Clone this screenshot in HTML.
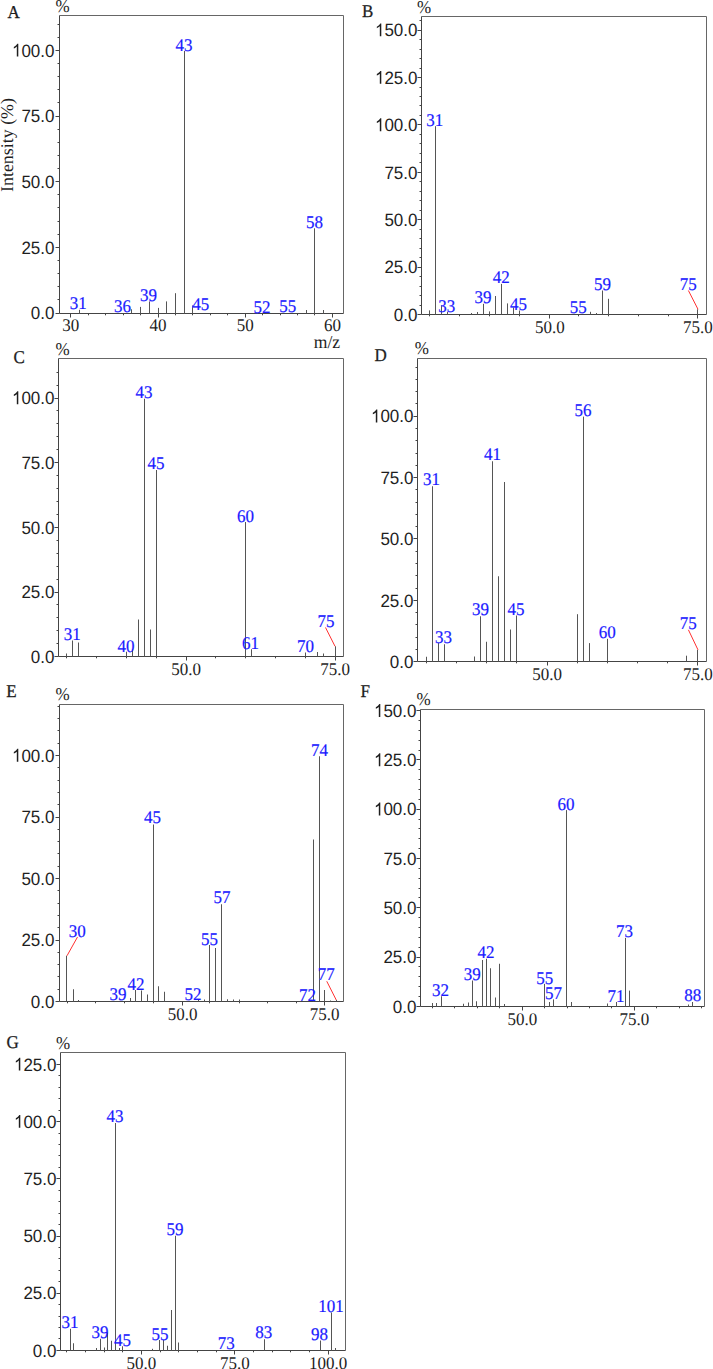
<!DOCTYPE html>
<html><head><meta charset="utf-8"><title>Mass spectra</title>
<style>
html,body{margin:0;padding:0;background:#fff;}
body{width:713px;height:1369px;overflow:hidden;}
svg{display:block;text-rendering:geometricPrecision;}
.yl{font-family:"Liberation Sans", sans-serif;font-size:17px;fill:#1e1e1e;text-anchor:end;}
.xl{font-family:"Liberation Serif", serif;font-size:17px;fill:#1e1e1e;text-anchor:middle;}
.pl{font-family:"Liberation Serif", serif;font-size:17px;fill:#1a1aff;stroke:#1a1aff;stroke-width:0.2px;text-anchor:middle;}
.lt{font-family:"Liberation Serif", serif;font-size:17px;fill:#1e1e1e;stroke:#1e1e1e;stroke-width:0.25px;}
.pc{font-family:"Liberation Serif", serif;font-size:17px;fill:#1e1e1e;}
.yt{font-family:"Liberation Serif", serif;font-size:17.9px;fill:#1e1e1e;text-anchor:middle;}
.mz{font-family:"Liberation Serif", serif;font-size:17.6px;fill:#1e1e1e;}
</style></head>
<body>
<svg width="713" height="1369" viewBox="0 0 713 1369">
<rect width="713" height="1369" fill="#fff"/>
<path d="M59.5 15.5H343.5V313.5" stroke="#666" stroke-width="1" fill="none"/>
<path d="M59.5 15.5V313.5H343.5" stroke="#444" stroke-width="1" fill="none"/>
<line x1="55.5" y1="313.5" x2="59.5" y2="313.5" stroke="#444" stroke-width="1"/>
<line x1="57.5" y1="299.5" x2="59.5" y2="299.5" stroke="#444" stroke-width="1"/>
<line x1="57.5" y1="286.5" x2="59.5" y2="286.5" stroke="#444" stroke-width="1"/>
<line x1="57.5" y1="273.5" x2="59.5" y2="273.5" stroke="#444" stroke-width="1"/>
<line x1="57.5" y1="260.5" x2="59.5" y2="260.5" stroke="#444" stroke-width="1"/>
<line x1="55.5" y1="247.5" x2="59.5" y2="247.5" stroke="#444" stroke-width="1"/>
<line x1="57.5" y1="234.5" x2="59.5" y2="234.5" stroke="#444" stroke-width="1"/>
<line x1="57.5" y1="221.5" x2="59.5" y2="221.5" stroke="#444" stroke-width="1"/>
<line x1="57.5" y1="207.5" x2="59.5" y2="207.5" stroke="#444" stroke-width="1"/>
<line x1="57.5" y1="194.5" x2="59.5" y2="194.5" stroke="#444" stroke-width="1"/>
<line x1="55.5" y1="181.5" x2="59.5" y2="181.5" stroke="#444" stroke-width="1"/>
<line x1="57.5" y1="168.5" x2="59.5" y2="168.5" stroke="#444" stroke-width="1"/>
<line x1="57.5" y1="155.5" x2="59.5" y2="155.5" stroke="#444" stroke-width="1"/>
<line x1="57.5" y1="142.5" x2="59.5" y2="142.5" stroke="#444" stroke-width="1"/>
<line x1="57.5" y1="129.5" x2="59.5" y2="129.5" stroke="#444" stroke-width="1"/>
<line x1="55.5" y1="116.5" x2="59.5" y2="116.5" stroke="#444" stroke-width="1"/>
<line x1="57.5" y1="102.5" x2="59.5" y2="102.5" stroke="#444" stroke-width="1"/>
<line x1="57.5" y1="89.5" x2="59.5" y2="89.5" stroke="#444" stroke-width="1"/>
<line x1="57.5" y1="76.5" x2="59.5" y2="76.5" stroke="#444" stroke-width="1"/>
<line x1="57.5" y1="63.5" x2="59.5" y2="63.5" stroke="#444" stroke-width="1"/>
<line x1="55.5" y1="50.5" x2="59.5" y2="50.5" stroke="#444" stroke-width="1"/>
<line x1="57.5" y1="37.5" x2="59.5" y2="37.5" stroke="#444" stroke-width="1"/>
<line x1="57.5" y1="24.5" x2="59.5" y2="24.5" stroke="#444" stroke-width="1"/>
<text transform="translate(54.5,319.2) scale(1,1.05)" class="yl">0.0</text>
<text transform="translate(54.5,253.55) scale(1,1.05)" class="yl">25.0</text>
<text transform="translate(54.5,187.9) scale(1,1.05)" class="yl">50.0</text>
<text transform="translate(54.5,122.25) scale(1,1.05)" class="yl">75.0</text>
<text transform="translate(54.5,56.6) scale(1,1.05)" class="yl">00.0</text>
<path transform="translate(11.97,56.6) scale(0.008301,-0.008716)" d="M763,0L583,0L583,1147C540,1106 483,1064 413,1023C343,982 280,951 223,930L223,1104C322,1150 401,1203 480,1272C559,1341 613,1408 643,1472L763,1472Z" fill="#1e1e1e"/>
<line x1="70.5" y1="313.5" x2="70.5" y2="317.5" stroke="#444" stroke-width="1"/>
<line x1="88.5" y1="313.5" x2="88.5" y2="315.3" stroke="#444" stroke-width="1"/>
<line x1="105.5" y1="313.5" x2="105.5" y2="315.3" stroke="#444" stroke-width="1"/>
<line x1="123.5" y1="313.5" x2="123.5" y2="315.3" stroke="#444" stroke-width="1"/>
<line x1="140.5" y1="313.5" x2="140.5" y2="315.3" stroke="#444" stroke-width="1"/>
<line x1="158.5" y1="313.5" x2="158.5" y2="317.5" stroke="#444" stroke-width="1"/>
<line x1="175.5" y1="313.5" x2="175.5" y2="315.3" stroke="#444" stroke-width="1"/>
<line x1="192.5" y1="313.5" x2="192.5" y2="315.3" stroke="#444" stroke-width="1"/>
<line x1="210.5" y1="313.5" x2="210.5" y2="315.3" stroke="#444" stroke-width="1"/>
<line x1="227.5" y1="313.5" x2="227.5" y2="315.3" stroke="#444" stroke-width="1"/>
<line x1="245.5" y1="313.5" x2="245.5" y2="317.5" stroke="#444" stroke-width="1"/>
<line x1="262.5" y1="313.5" x2="262.5" y2="315.3" stroke="#444" stroke-width="1"/>
<line x1="280.5" y1="313.5" x2="280.5" y2="315.3" stroke="#444" stroke-width="1"/>
<line x1="297.5" y1="313.5" x2="297.5" y2="315.3" stroke="#444" stroke-width="1"/>
<line x1="314.5" y1="313.5" x2="314.5" y2="315.3" stroke="#444" stroke-width="1"/>
<line x1="332.5" y1="313.5" x2="332.5" y2="317.5" stroke="#444" stroke-width="1"/>
<text transform="translate(70.8,330.8) scale(1,1.05)" class="xl">30</text>
<text transform="translate(158,330.8) scale(1,1.05)" class="xl">40</text>
<text transform="translate(245.2,330.8) scale(1,1.05)" class="xl">50</text>
<text transform="translate(332.4,330.8) scale(1,1.05)" class="xl">60</text>
<line x1="79.5" y1="313.5" x2="79.5" y2="309.8" stroke="#555" stroke-width="1"/>
<line x1="131.5" y1="313.5" x2="131.5" y2="309.3" stroke="#555" stroke-width="1"/>
<line x1="140.5" y1="313.5" x2="140.5" y2="306.9" stroke="#555" stroke-width="1"/>
<line x1="149.5" y1="313.5" x2="149.5" y2="301.4" stroke="#555" stroke-width="1"/>
<line x1="158.5" y1="313.5" x2="158.5" y2="307.9" stroke="#555" stroke-width="1"/>
<line x1="166.5" y1="313.5" x2="166.5" y2="301.4" stroke="#555" stroke-width="1"/>
<line x1="175.5" y1="313.5" x2="175.5" y2="293.2" stroke="#555" stroke-width="1"/>
<line x1="184.5" y1="313.5" x2="184.5" y2="51" stroke="#555" stroke-width="1"/>
<line x1="192.5" y1="313.5" x2="192.5" y2="305.4" stroke="#555" stroke-width="1"/>
<line x1="306.5" y1="313.5" x2="306.5" y2="310" stroke="#555" stroke-width="1"/>
<line x1="314.5" y1="313.5" x2="314.5" y2="228.3" stroke="#555" stroke-width="1"/>
<line x1="323.5" y1="313.5" x2="323.5" y2="310" stroke="#555" stroke-width="1"/>
<text transform="translate(78.3,309.1) scale(1,1.05)" class="pl">31</text>
<text transform="translate(122.4,312.2) scale(1,1.05)" class="pl">36</text>
<text transform="translate(148.6,300.8) scale(1,1.05)" class="pl">39</text>
<text transform="translate(183.9,51.1) scale(1,1.05)" class="pl">43</text>
<text transform="translate(200.8,310.4) scale(1,1.05)" class="pl">45</text>
<text transform="translate(262.1,313.2) scale(1,1.05)" class="pl">52</text>
<text transform="translate(287.8,312.4) scale(1,1.05)" class="pl">55</text>
<text transform="translate(314.6,227.9) scale(1,1.05)" class="pl">58</text>
<text transform="translate(7.5,18.2) scale(1,1.06)" class="lt">A</text>
<text transform="translate(55.5,11.8) scale(1,1.06)" class="pc">%</text>
<path d="M421.5 16.5H706.5V314.5" stroke="#666" stroke-width="1" fill="none"/>
<path d="M421.5 16.5V314.5H706.5" stroke="#444" stroke-width="1" fill="none"/>
<line x1="417.5" y1="314.5" x2="421.5" y2="314.5" stroke="#444" stroke-width="1"/>
<line x1="419.5" y1="305.5" x2="421.5" y2="305.5" stroke="#444" stroke-width="1"/>
<line x1="419.5" y1="295.5" x2="421.5" y2="295.5" stroke="#444" stroke-width="1"/>
<line x1="419.5" y1="286.5" x2="421.5" y2="286.5" stroke="#444" stroke-width="1"/>
<line x1="419.5" y1="276.5" x2="421.5" y2="276.5" stroke="#444" stroke-width="1"/>
<line x1="417.5" y1="267.5" x2="421.5" y2="267.5" stroke="#444" stroke-width="1"/>
<line x1="419.5" y1="257.5" x2="421.5" y2="257.5" stroke="#444" stroke-width="1"/>
<line x1="419.5" y1="248.5" x2="421.5" y2="248.5" stroke="#444" stroke-width="1"/>
<line x1="419.5" y1="238.5" x2="421.5" y2="238.5" stroke="#444" stroke-width="1"/>
<line x1="419.5" y1="229.5" x2="421.5" y2="229.5" stroke="#444" stroke-width="1"/>
<line x1="417.5" y1="219.5" x2="421.5" y2="219.5" stroke="#444" stroke-width="1"/>
<line x1="419.5" y1="210.5" x2="421.5" y2="210.5" stroke="#444" stroke-width="1"/>
<line x1="419.5" y1="200.5" x2="421.5" y2="200.5" stroke="#444" stroke-width="1"/>
<line x1="419.5" y1="191.5" x2="421.5" y2="191.5" stroke="#444" stroke-width="1"/>
<line x1="419.5" y1="181.5" x2="421.5" y2="181.5" stroke="#444" stroke-width="1"/>
<line x1="417.5" y1="172.5" x2="421.5" y2="172.5" stroke="#444" stroke-width="1"/>
<line x1="419.5" y1="162.5" x2="421.5" y2="162.5" stroke="#444" stroke-width="1"/>
<line x1="419.5" y1="153.5" x2="421.5" y2="153.5" stroke="#444" stroke-width="1"/>
<line x1="419.5" y1="143.5" x2="421.5" y2="143.5" stroke="#444" stroke-width="1"/>
<line x1="419.5" y1="134.5" x2="421.5" y2="134.5" stroke="#444" stroke-width="1"/>
<line x1="417.5" y1="124.5" x2="421.5" y2="124.5" stroke="#444" stroke-width="1"/>
<line x1="419.5" y1="115.5" x2="421.5" y2="115.5" stroke="#444" stroke-width="1"/>
<line x1="419.5" y1="105.5" x2="421.5" y2="105.5" stroke="#444" stroke-width="1"/>
<line x1="419.5" y1="96.5" x2="421.5" y2="96.5" stroke="#444" stroke-width="1"/>
<line x1="419.5" y1="87.5" x2="421.5" y2="87.5" stroke="#444" stroke-width="1"/>
<line x1="417.5" y1="77.5" x2="421.5" y2="77.5" stroke="#444" stroke-width="1"/>
<line x1="419.5" y1="68.5" x2="421.5" y2="68.5" stroke="#444" stroke-width="1"/>
<line x1="419.5" y1="58.5" x2="421.5" y2="58.5" stroke="#444" stroke-width="1"/>
<line x1="419.5" y1="49.5" x2="421.5" y2="49.5" stroke="#444" stroke-width="1"/>
<line x1="419.5" y1="39.5" x2="421.5" y2="39.5" stroke="#444" stroke-width="1"/>
<line x1="417.5" y1="30.5" x2="421.5" y2="30.5" stroke="#444" stroke-width="1"/>
<line x1="419.5" y1="20.5" x2="421.5" y2="20.5" stroke="#444" stroke-width="1"/>
<text transform="translate(417.5,320.9) scale(1,1.05)" class="yl">0.0</text>
<text transform="translate(417.5,273.46) scale(1,1.05)" class="yl">25.0</text>
<text transform="translate(417.5,226.02) scale(1,1.05)" class="yl">50.0</text>
<text transform="translate(417.5,178.59) scale(1,1.05)" class="yl">75.0</text>
<text transform="translate(417.5,131.15) scale(1,1.05)" class="yl">00.0</text>
<path transform="translate(374.97,131.15) scale(0.008301,-0.008716)" d="M763,0L583,0L583,1147C540,1106 483,1064 413,1023C343,982 280,951 223,930L223,1104C322,1150 401,1203 480,1272C559,1341 613,1408 643,1472L763,1472Z" fill="#1e1e1e"/>
<text transform="translate(417.5,83.71) scale(1,1.05)" class="yl">25.0</text>
<path transform="translate(374.97,83.71) scale(0.008301,-0.008716)" d="M763,0L583,0L583,1147C540,1106 483,1064 413,1023C343,982 280,951 223,930L223,1104C322,1150 401,1203 480,1272C559,1341 613,1408 643,1472L763,1472Z" fill="#1e1e1e"/>
<text transform="translate(417.5,36.27) scale(1,1.05)" class="yl">50.0</text>
<path transform="translate(374.97,36.27) scale(0.008301,-0.008716)" d="M763,0L583,0L583,1147C540,1106 483,1064 413,1023C343,982 280,951 223,930L223,1104C322,1150 401,1203 480,1272C559,1341 613,1408 643,1472L763,1472Z" fill="#1e1e1e"/>
<line x1="429.5" y1="314.5" x2="429.5" y2="316.3" stroke="#444" stroke-width="1"/>
<line x1="459.5" y1="314.5" x2="459.5" y2="316.3" stroke="#444" stroke-width="1"/>
<line x1="489.5" y1="314.5" x2="489.5" y2="316.3" stroke="#444" stroke-width="1"/>
<line x1="519.5" y1="314.5" x2="519.5" y2="316.3" stroke="#444" stroke-width="1"/>
<line x1="549.5" y1="314.5" x2="549.5" y2="318.5" stroke="#444" stroke-width="1"/>
<line x1="578.5" y1="314.5" x2="578.5" y2="316.3" stroke="#444" stroke-width="1"/>
<line x1="608.5" y1="314.5" x2="608.5" y2="316.3" stroke="#444" stroke-width="1"/>
<line x1="638.5" y1="314.5" x2="638.5" y2="316.3" stroke="#444" stroke-width="1"/>
<line x1="668.5" y1="314.5" x2="668.5" y2="316.3" stroke="#444" stroke-width="1"/>
<line x1="697.5" y1="314.5" x2="697.5" y2="318.5" stroke="#444" stroke-width="1"/>
<text transform="translate(549.8,332.5) scale(1,1.05)" class="xl">50.0</text>
<text transform="translate(697.78,332.5) scale(1,1.05)" class="xl">75.0</text>
<line x1="429.5" y1="314.5" x2="429.5" y2="310.4" stroke="#555" stroke-width="1"/>
<line x1="435.5" y1="314.5" x2="435.5" y2="126.2" stroke="#555" stroke-width="1"/>
<line x1="441.5" y1="314.5" x2="441.5" y2="305.3" stroke="#555" stroke-width="1"/>
<line x1="447.5" y1="314.5" x2="447.5" y2="311.8" stroke="#555" stroke-width="1"/>
<line x1="471.5" y1="314.5" x2="471.5" y2="313" stroke="#555" stroke-width="1"/>
<line x1="477.5" y1="314.5" x2="477.5" y2="312" stroke="#555" stroke-width="1"/>
<line x1="483.5" y1="314.5" x2="483.5" y2="303.8" stroke="#555" stroke-width="1"/>
<line x1="489.5" y1="314.5" x2="489.5" y2="311.4" stroke="#555" stroke-width="1"/>
<line x1="495.5" y1="314.5" x2="495.5" y2="296" stroke="#555" stroke-width="1"/>
<line x1="501.5" y1="314.5" x2="501.5" y2="283.9" stroke="#555" stroke-width="1"/>
<line x1="507.5" y1="314.5" x2="507.5" y2="303.4" stroke="#555" stroke-width="1"/>
<line x1="513.5" y1="314.5" x2="513.5" y2="307.5" stroke="#555" stroke-width="1"/>
<line x1="519.5" y1="314.5" x2="519.5" y2="310.5" stroke="#555" stroke-width="1"/>
<line x1="590.5" y1="314.5" x2="590.5" y2="311.8" stroke="#555" stroke-width="1"/>
<line x1="596.5" y1="314.5" x2="596.5" y2="313" stroke="#555" stroke-width="1"/>
<line x1="602.5" y1="314.5" x2="602.5" y2="290.5" stroke="#555" stroke-width="1"/>
<line x1="608.5" y1="314.5" x2="608.5" y2="298.8" stroke="#555" stroke-width="1"/>
<line x1="697.5" y1="314.5" x2="697.5" y2="309.3" stroke="#555" stroke-width="1"/>
<line x1="688.4" y1="290.5" x2="698" y2="309.3" stroke="#ff3030" stroke-width="1"/>
<text transform="translate(434.8,125.6) scale(1,1.05)" class="pl">31</text>
<text transform="translate(446.7,312.1) scale(1,1.05)" class="pl">33</text>
<text transform="translate(483,303.1) scale(1,1.05)" class="pl">39</text>
<text transform="translate(501.2,283.1) scale(1,1.05)" class="pl">42</text>
<text transform="translate(518.5,309.8) scale(1,1.05)" class="pl">45</text>
<text transform="translate(578.3,313.4) scale(1,1.05)" class="pl">55</text>
<text transform="translate(602.5,290.4) scale(1,1.05)" class="pl">59</text>
<text transform="translate(688.2,290.4) scale(1,1.05)" class="pl">75</text>
<text transform="translate(362.1,16.7) scale(1,1.06)" class="lt">B</text>
<text transform="translate(417,12.6) scale(1,1.06)" class="pc">%</text>
<path d="M58.5 358.5H343.5V656.5" stroke="#666" stroke-width="1" fill="none"/>
<path d="M58.5 358.5V656.5H343.5" stroke="#444" stroke-width="1" fill="none"/>
<line x1="54.5" y1="656.5" x2="58.5" y2="656.5" stroke="#444" stroke-width="1"/>
<line x1="56.5" y1="643.5" x2="58.5" y2="643.5" stroke="#444" stroke-width="1"/>
<line x1="56.5" y1="630.5" x2="58.5" y2="630.5" stroke="#444" stroke-width="1"/>
<line x1="56.5" y1="617.5" x2="58.5" y2="617.5" stroke="#444" stroke-width="1"/>
<line x1="56.5" y1="604.5" x2="58.5" y2="604.5" stroke="#444" stroke-width="1"/>
<line x1="54.5" y1="592.5" x2="58.5" y2="592.5" stroke="#444" stroke-width="1"/>
<line x1="56.5" y1="579.5" x2="58.5" y2="579.5" stroke="#444" stroke-width="1"/>
<line x1="56.5" y1="566.5" x2="58.5" y2="566.5" stroke="#444" stroke-width="1"/>
<line x1="56.5" y1="553.5" x2="58.5" y2="553.5" stroke="#444" stroke-width="1"/>
<line x1="56.5" y1="540.5" x2="58.5" y2="540.5" stroke="#444" stroke-width="1"/>
<line x1="54.5" y1="527.5" x2="58.5" y2="527.5" stroke="#444" stroke-width="1"/>
<line x1="56.5" y1="514.5" x2="58.5" y2="514.5" stroke="#444" stroke-width="1"/>
<line x1="56.5" y1="501.5" x2="58.5" y2="501.5" stroke="#444" stroke-width="1"/>
<line x1="56.5" y1="488.5" x2="58.5" y2="488.5" stroke="#444" stroke-width="1"/>
<line x1="56.5" y1="475.5" x2="58.5" y2="475.5" stroke="#444" stroke-width="1"/>
<line x1="54.5" y1="462.5" x2="58.5" y2="462.5" stroke="#444" stroke-width="1"/>
<line x1="56.5" y1="449.5" x2="58.5" y2="449.5" stroke="#444" stroke-width="1"/>
<line x1="56.5" y1="436.5" x2="58.5" y2="436.5" stroke="#444" stroke-width="1"/>
<line x1="56.5" y1="423.5" x2="58.5" y2="423.5" stroke="#444" stroke-width="1"/>
<line x1="56.5" y1="410.5" x2="58.5" y2="410.5" stroke="#444" stroke-width="1"/>
<line x1="54.5" y1="398.5" x2="58.5" y2="398.5" stroke="#444" stroke-width="1"/>
<line x1="56.5" y1="385.5" x2="58.5" y2="385.5" stroke="#444" stroke-width="1"/>
<line x1="56.5" y1="372.5" x2="58.5" y2="372.5" stroke="#444" stroke-width="1"/>
<text transform="translate(54.5,662.9) scale(1,1.05)" class="yl">0.0</text>
<text transform="translate(54.5,598.23) scale(1,1.05)" class="yl">25.0</text>
<text transform="translate(54.5,533.55) scale(1,1.05)" class="yl">50.0</text>
<text transform="translate(54.5,468.88) scale(1,1.05)" class="yl">75.0</text>
<text transform="translate(54.5,404.2) scale(1,1.05)" class="yl">00.0</text>
<path transform="translate(11.97,404.2) scale(0.008301,-0.008716)" d="M763,0L583,0L583,1147C540,1106 483,1064 413,1023C343,982 280,951 223,930L223,1104C322,1150 401,1203 480,1272C559,1341 613,1408 643,1472L763,1472Z" fill="#1e1e1e"/>
<line x1="66.5" y1="656.5" x2="66.5" y2="658.3" stroke="#444" stroke-width="1"/>
<line x1="96.5" y1="656.5" x2="96.5" y2="658.3" stroke="#444" stroke-width="1"/>
<line x1="126.5" y1="656.5" x2="126.5" y2="658.3" stroke="#444" stroke-width="1"/>
<line x1="156.5" y1="656.5" x2="156.5" y2="658.3" stroke="#444" stroke-width="1"/>
<line x1="186.5" y1="656.5" x2="186.5" y2="660.5" stroke="#444" stroke-width="1"/>
<line x1="215.5" y1="656.5" x2="215.5" y2="658.3" stroke="#444" stroke-width="1"/>
<line x1="245.5" y1="656.5" x2="245.5" y2="658.3" stroke="#444" stroke-width="1"/>
<line x1="275.5" y1="656.5" x2="275.5" y2="658.3" stroke="#444" stroke-width="1"/>
<line x1="305.5" y1="656.5" x2="305.5" y2="658.3" stroke="#444" stroke-width="1"/>
<line x1="335.5" y1="656.5" x2="335.5" y2="660.5" stroke="#444" stroke-width="1"/>
<text transform="translate(186.02,674.5) scale(1,1.05)" class="xl">50.0</text>
<text transform="translate(335.17,674.5) scale(1,1.05)" class="xl">75.0</text>
<line x1="66.5" y1="656.5" x2="66.5" y2="653.5" stroke="#555" stroke-width="1"/>
<line x1="72.5" y1="656.5" x2="72.5" y2="640.5" stroke="#555" stroke-width="1"/>
<line x1="78.5" y1="656.5" x2="78.5" y2="642.5" stroke="#555" stroke-width="1"/>
<line x1="126.5" y1="656.5" x2="126.5" y2="651.75" stroke="#555" stroke-width="1"/>
<line x1="132.5" y1="656.5" x2="132.5" y2="649.25" stroke="#555" stroke-width="1"/>
<line x1="138.5" y1="656.5" x2="138.5" y2="619.5" stroke="#555" stroke-width="1"/>
<line x1="144.5" y1="656.5" x2="144.5" y2="398.75" stroke="#555" stroke-width="1"/>
<line x1="150.5" y1="656.5" x2="150.5" y2="629.5" stroke="#555" stroke-width="1"/>
<line x1="156.5" y1="656.5" x2="156.5" y2="470" stroke="#555" stroke-width="1"/>
<line x1="245.5" y1="656.5" x2="245.5" y2="522" stroke="#555" stroke-width="1"/>
<line x1="251.5" y1="656.5" x2="251.5" y2="649.25" stroke="#555" stroke-width="1"/>
<line x1="305.5" y1="656.5" x2="305.5" y2="652.5" stroke="#555" stroke-width="1"/>
<line x1="317.5" y1="656.5" x2="317.5" y2="652" stroke="#555" stroke-width="1"/>
<line x1="323.5" y1="656.5" x2="323.5" y2="653.5" stroke="#555" stroke-width="1"/>
<line x1="335.5" y1="656.5" x2="335.5" y2="646.25" stroke="#555" stroke-width="1"/>
<line x1="325.5" y1="627.5" x2="335" y2="646.25" stroke="#ff3030" stroke-width="1"/>
<text transform="translate(72.25,640.4) scale(1,1.05)" class="pl">31</text>
<text transform="translate(125.9,651.65) scale(1,1.05)" class="pl">40</text>
<text transform="translate(143.9,397.9) scale(1,1.05)" class="pl">43</text>
<text transform="translate(155.9,469.4) scale(1,1.05)" class="pl">45</text>
<text transform="translate(245.4,521.65) scale(1,1.05)" class="pl">60</text>
<text transform="translate(250.6,649.15) scale(1,1.05)" class="pl">61</text>
<text transform="translate(305.6,652.15) scale(1,1.05)" class="pl">70</text>
<text transform="translate(325.9,626.65) scale(1,1.05)" class="pl">75</text>
<text transform="translate(13.5,363.2) scale(1,1.06)" class="lt">C</text>
<text transform="translate(55.5,355) scale(1,1.06)" class="pc">%</text>
<path d="M417.5 358.5H706.5V661.5" stroke="#666" stroke-width="1" fill="none"/>
<path d="M417.5 358.5V661.5H706.5" stroke="#444" stroke-width="1" fill="none"/>
<line x1="413.5" y1="661.5" x2="417.5" y2="661.5" stroke="#444" stroke-width="1"/>
<line x1="415.5" y1="649.5" x2="417.5" y2="649.5" stroke="#444" stroke-width="1"/>
<line x1="415.5" y1="637.5" x2="417.5" y2="637.5" stroke="#444" stroke-width="1"/>
<line x1="415.5" y1="624.5" x2="417.5" y2="624.5" stroke="#444" stroke-width="1"/>
<line x1="415.5" y1="612.5" x2="417.5" y2="612.5" stroke="#444" stroke-width="1"/>
<line x1="413.5" y1="600.5" x2="417.5" y2="600.5" stroke="#444" stroke-width="1"/>
<line x1="415.5" y1="588.5" x2="417.5" y2="588.5" stroke="#444" stroke-width="1"/>
<line x1="415.5" y1="575.5" x2="417.5" y2="575.5" stroke="#444" stroke-width="1"/>
<line x1="415.5" y1="563.5" x2="417.5" y2="563.5" stroke="#444" stroke-width="1"/>
<line x1="415.5" y1="551.5" x2="417.5" y2="551.5" stroke="#444" stroke-width="1"/>
<line x1="413.5" y1="538.5" x2="417.5" y2="538.5" stroke="#444" stroke-width="1"/>
<line x1="415.5" y1="526.5" x2="417.5" y2="526.5" stroke="#444" stroke-width="1"/>
<line x1="415.5" y1="514.5" x2="417.5" y2="514.5" stroke="#444" stroke-width="1"/>
<line x1="415.5" y1="502.5" x2="417.5" y2="502.5" stroke="#444" stroke-width="1"/>
<line x1="415.5" y1="489.5" x2="417.5" y2="489.5" stroke="#444" stroke-width="1"/>
<line x1="413.5" y1="477.5" x2="417.5" y2="477.5" stroke="#444" stroke-width="1"/>
<line x1="415.5" y1="465.5" x2="417.5" y2="465.5" stroke="#444" stroke-width="1"/>
<line x1="415.5" y1="453.5" x2="417.5" y2="453.5" stroke="#444" stroke-width="1"/>
<line x1="415.5" y1="440.5" x2="417.5" y2="440.5" stroke="#444" stroke-width="1"/>
<line x1="415.5" y1="428.5" x2="417.5" y2="428.5" stroke="#444" stroke-width="1"/>
<line x1="413.5" y1="416.5" x2="417.5" y2="416.5" stroke="#444" stroke-width="1"/>
<line x1="415.5" y1="403.5" x2="417.5" y2="403.5" stroke="#444" stroke-width="1"/>
<line x1="415.5" y1="391.5" x2="417.5" y2="391.5" stroke="#444" stroke-width="1"/>
<line x1="415.5" y1="379.5" x2="417.5" y2="379.5" stroke="#444" stroke-width="1"/>
<line x1="415.5" y1="367.5" x2="417.5" y2="367.5" stroke="#444" stroke-width="1"/>
<text transform="translate(413.5,667.9) scale(1,1.05)" class="yl">0.0</text>
<text transform="translate(413.5,606.54) scale(1,1.05)" class="yl">25.0</text>
<text transform="translate(413.5,545.18) scale(1,1.05)" class="yl">50.0</text>
<text transform="translate(413.5,483.81) scale(1,1.05)" class="yl">75.0</text>
<text transform="translate(413.5,422.45) scale(1,1.05)" class="yl">00.0</text>
<path transform="translate(370.97,422.45) scale(0.008301,-0.008716)" d="M763,0L583,0L583,1147C540,1106 483,1064 413,1023C343,982 280,951 223,930L223,1104C322,1150 401,1203 480,1272C559,1341 613,1408 643,1472L763,1472Z" fill="#1e1e1e"/>
<line x1="426.5" y1="661.5" x2="426.5" y2="663.3" stroke="#444" stroke-width="1"/>
<line x1="456.5" y1="661.5" x2="456.5" y2="663.3" stroke="#444" stroke-width="1"/>
<line x1="486.5" y1="661.5" x2="486.5" y2="663.3" stroke="#444" stroke-width="1"/>
<line x1="516.5" y1="661.5" x2="516.5" y2="663.3" stroke="#444" stroke-width="1"/>
<line x1="547.5" y1="661.5" x2="547.5" y2="665.5" stroke="#444" stroke-width="1"/>
<line x1="577.5" y1="661.5" x2="577.5" y2="663.3" stroke="#444" stroke-width="1"/>
<line x1="607.5" y1="661.5" x2="607.5" y2="663.3" stroke="#444" stroke-width="1"/>
<line x1="637.5" y1="661.5" x2="637.5" y2="663.3" stroke="#444" stroke-width="1"/>
<line x1="667.5" y1="661.5" x2="667.5" y2="663.3" stroke="#444" stroke-width="1"/>
<line x1="697.5" y1="661.5" x2="697.5" y2="665.5" stroke="#444" stroke-width="1"/>
<text transform="translate(547.01,679.5) scale(1,1.05)" class="xl">50.0</text>
<text transform="translate(697.8,679.5) scale(1,1.05)" class="xl">75.0</text>
<line x1="426.5" y1="661.5" x2="426.5" y2="656.75" stroke="#555" stroke-width="1"/>
<line x1="432.5" y1="661.5" x2="432.5" y2="486.25" stroke="#555" stroke-width="1"/>
<line x1="438.5" y1="661.5" x2="438.5" y2="643" stroke="#555" stroke-width="1"/>
<line x1="444.5" y1="661.5" x2="444.5" y2="644.25" stroke="#555" stroke-width="1"/>
<line x1="474.5" y1="661.5" x2="474.5" y2="656.5" stroke="#555" stroke-width="1"/>
<line x1="480.5" y1="661.5" x2="480.5" y2="616.25" stroke="#555" stroke-width="1"/>
<line x1="486.5" y1="661.5" x2="486.5" y2="641.75" stroke="#555" stroke-width="1"/>
<line x1="492.5" y1="661.5" x2="492.5" y2="461.25" stroke="#555" stroke-width="1"/>
<line x1="498.5" y1="661.5" x2="498.5" y2="576.25" stroke="#555" stroke-width="1"/>
<line x1="504.5" y1="661.5" x2="504.5" y2="482" stroke="#555" stroke-width="1"/>
<line x1="510.5" y1="661.5" x2="510.5" y2="629.5" stroke="#555" stroke-width="1"/>
<line x1="516.5" y1="661.5" x2="516.5" y2="615.5" stroke="#555" stroke-width="1"/>
<line x1="577.5" y1="661.5" x2="577.5" y2="614.2" stroke="#555" stroke-width="1"/>
<line x1="583.5" y1="661.5" x2="583.5" y2="416.6" stroke="#555" stroke-width="1"/>
<line x1="589.5" y1="661.5" x2="589.5" y2="643.1" stroke="#555" stroke-width="1"/>
<line x1="607.5" y1="661.5" x2="607.5" y2="638.8" stroke="#555" stroke-width="1"/>
<line x1="686.5" y1="661.5" x2="686.5" y2="655.7" stroke="#555" stroke-width="1"/>
<line x1="697.5" y1="661.5" x2="697.5" y2="649.9" stroke="#555" stroke-width="1"/>
<line x1="688.4" y1="629.8" x2="698" y2="649.9" stroke="#ff3030" stroke-width="1"/>
<text transform="translate(431.4,485.1) scale(1,1.05)" class="pl">31</text>
<text transform="translate(443.5,643.35) scale(1,1.05)" class="pl">33</text>
<text transform="translate(480.5,615.35) scale(1,1.05)" class="pl">39</text>
<text transform="translate(492.5,460.1) scale(1,1.05)" class="pl">41</text>
<text transform="translate(516.1,615.35) scale(1,1.05)" class="pl">45</text>
<text transform="translate(583,415.7) scale(1,1.05)" class="pl">56</text>
<text transform="translate(607.2,637.7) scale(1,1.05)" class="pl">60</text>
<text transform="translate(688.2,629.4) scale(1,1.05)" class="pl">75</text>
<text transform="translate(374.5,360.7) scale(1,1.06)" class="lt">D</text>
<text transform="translate(414.8,354.3) scale(1,1.06)" class="pc">%</text>
<path d="M59.5 704.5H343.5V1001.5" stroke="#666" stroke-width="1" fill="none"/>
<path d="M59.5 704.5V1001.5H343.5" stroke="#444" stroke-width="1" fill="none"/>
<line x1="55.5" y1="1001.5" x2="59.5" y2="1001.5" stroke="#444" stroke-width="1"/>
<line x1="57.5" y1="989.5" x2="59.5" y2="989.5" stroke="#444" stroke-width="1"/>
<line x1="57.5" y1="976.5" x2="59.5" y2="976.5" stroke="#444" stroke-width="1"/>
<line x1="57.5" y1="964.5" x2="59.5" y2="964.5" stroke="#444" stroke-width="1"/>
<line x1="57.5" y1="952.5" x2="59.5" y2="952.5" stroke="#444" stroke-width="1"/>
<line x1="55.5" y1="940.5" x2="59.5" y2="940.5" stroke="#444" stroke-width="1"/>
<line x1="57.5" y1="927.5" x2="59.5" y2="927.5" stroke="#444" stroke-width="1"/>
<line x1="57.5" y1="915.5" x2="59.5" y2="915.5" stroke="#444" stroke-width="1"/>
<line x1="57.5" y1="903.5" x2="59.5" y2="903.5" stroke="#444" stroke-width="1"/>
<line x1="57.5" y1="890.5" x2="59.5" y2="890.5" stroke="#444" stroke-width="1"/>
<line x1="55.5" y1="878.5" x2="59.5" y2="878.5" stroke="#444" stroke-width="1"/>
<line x1="57.5" y1="866.5" x2="59.5" y2="866.5" stroke="#444" stroke-width="1"/>
<line x1="57.5" y1="853.5" x2="59.5" y2="853.5" stroke="#444" stroke-width="1"/>
<line x1="57.5" y1="841.5" x2="59.5" y2="841.5" stroke="#444" stroke-width="1"/>
<line x1="57.5" y1="829.5" x2="59.5" y2="829.5" stroke="#444" stroke-width="1"/>
<line x1="55.5" y1="817.5" x2="59.5" y2="817.5" stroke="#444" stroke-width="1"/>
<line x1="57.5" y1="804.5" x2="59.5" y2="804.5" stroke="#444" stroke-width="1"/>
<line x1="57.5" y1="792.5" x2="59.5" y2="792.5" stroke="#444" stroke-width="1"/>
<line x1="57.5" y1="780.5" x2="59.5" y2="780.5" stroke="#444" stroke-width="1"/>
<line x1="57.5" y1="767.5" x2="59.5" y2="767.5" stroke="#444" stroke-width="1"/>
<line x1="55.5" y1="755.5" x2="59.5" y2="755.5" stroke="#444" stroke-width="1"/>
<line x1="57.5" y1="743.5" x2="59.5" y2="743.5" stroke="#444" stroke-width="1"/>
<line x1="57.5" y1="730.5" x2="59.5" y2="730.5" stroke="#444" stroke-width="1"/>
<line x1="57.5" y1="718.5" x2="59.5" y2="718.5" stroke="#444" stroke-width="1"/>
<line x1="57.5" y1="706.5" x2="59.5" y2="706.5" stroke="#444" stroke-width="1"/>
<text transform="translate(54.5,1007.8) scale(1,1.05)" class="yl">0.0</text>
<text transform="translate(54.5,946.28) scale(1,1.05)" class="yl">25.0</text>
<text transform="translate(54.5,884.75) scale(1,1.05)" class="yl">50.0</text>
<text transform="translate(54.5,823.23) scale(1,1.05)" class="yl">75.0</text>
<text transform="translate(54.5,761.7) scale(1,1.05)" class="yl">00.0</text>
<path transform="translate(11.97,761.7) scale(0.008301,-0.008716)" d="M763,0L583,0L583,1147C540,1106 483,1064 413,1023C343,982 280,951 223,930L223,1104C322,1150 401,1203 480,1272C559,1341 613,1408 643,1472L763,1472Z" fill="#1e1e1e"/>
<line x1="67.5" y1="1001.5" x2="67.5" y2="1003.3" stroke="#444" stroke-width="1"/>
<line x1="95.5" y1="1001.5" x2="95.5" y2="1003.3" stroke="#444" stroke-width="1"/>
<line x1="124.5" y1="1001.5" x2="124.5" y2="1003.3" stroke="#444" stroke-width="1"/>
<line x1="153.5" y1="1001.5" x2="153.5" y2="1003.3" stroke="#444" stroke-width="1"/>
<line x1="182.5" y1="1001.5" x2="182.5" y2="1005.5" stroke="#444" stroke-width="1"/>
<line x1="209.5" y1="1001.5" x2="209.5" y2="1003.3" stroke="#444" stroke-width="1"/>
<line x1="239.5" y1="1001.5" x2="239.5" y2="1003.3" stroke="#444" stroke-width="1"/>
<line x1="267.5" y1="1001.5" x2="267.5" y2="1003.3" stroke="#444" stroke-width="1"/>
<line x1="296.5" y1="1001.5" x2="296.5" y2="1003.3" stroke="#444" stroke-width="1"/>
<line x1="324.5" y1="1001.5" x2="324.5" y2="1005.5" stroke="#444" stroke-width="1"/>
<text transform="translate(182.5,1019.5) scale(1,1.05)" class="xl">50.0</text>
<text transform="translate(324.6,1019.5) scale(1,1.05)" class="xl">75.0</text>
<line x1="66.5" y1="1001.5" x2="66.5" y2="955.75" stroke="#555" stroke-width="1"/>
<line x1="73.5" y1="1001.5" x2="73.5" y2="989.25" stroke="#555" stroke-width="1"/>
<line x1="78.5" y1="1001.5" x2="78.5" y2="1000" stroke="#555" stroke-width="1"/>
<line x1="130.5" y1="1001.5" x2="130.5" y2="998" stroke="#555" stroke-width="1"/>
<line x1="135.5" y1="1001.5" x2="135.5" y2="990" stroke="#555" stroke-width="1"/>
<line x1="141.5" y1="1001.5" x2="141.5" y2="990.5" stroke="#555" stroke-width="1"/>
<line x1="147.5" y1="1001.5" x2="147.5" y2="994.5" stroke="#555" stroke-width="1"/>
<line x1="153.5" y1="1001.5" x2="153.5" y2="824.5" stroke="#555" stroke-width="1"/>
<line x1="158.5" y1="1001.5" x2="158.5" y2="986.25" stroke="#555" stroke-width="1"/>
<line x1="164.5" y1="1001.5" x2="164.5" y2="991.75" stroke="#555" stroke-width="1"/>
<line x1="198.5" y1="1001.5" x2="198.5" y2="999.5" stroke="#555" stroke-width="1"/>
<line x1="204.5" y1="1001.5" x2="204.5" y2="999.5" stroke="#555" stroke-width="1"/>
<line x1="209.5" y1="1001.5" x2="209.5" y2="945" stroke="#555" stroke-width="1"/>
<line x1="215.5" y1="1001.5" x2="215.5" y2="948" stroke="#555" stroke-width="1"/>
<line x1="221.5" y1="1001.5" x2="221.5" y2="904.25" stroke="#555" stroke-width="1"/>
<line x1="227.5" y1="1001.5" x2="227.5" y2="999.25" stroke="#555" stroke-width="1"/>
<line x1="233.5" y1="1001.5" x2="233.5" y2="999.5" stroke="#555" stroke-width="1"/>
<line x1="239.5" y1="1001.5" x2="239.5" y2="999.5" stroke="#555" stroke-width="1"/>
<line x1="313.5" y1="1001.5" x2="313.5" y2="839.5" stroke="#555" stroke-width="1"/>
<line x1="319.5" y1="1001.5" x2="319.5" y2="756.25" stroke="#555" stroke-width="1"/>
<line x1="324.5" y1="1001.5" x2="324.5" y2="990" stroke="#555" stroke-width="1"/>
<line x1="330.5" y1="1001.5" x2="330.5" y2="1000.5" stroke="#555" stroke-width="1"/>
<line x1="336.5" y1="1001.5" x2="336.5" y2="1000" stroke="#555" stroke-width="1"/>
<line x1="67" y1="955.75" x2="77.5" y2="937" stroke="#ff3030" stroke-width="1"/>
<line x1="326.75" y1="981.25" x2="336.25" y2="1000" stroke="#ff3030" stroke-width="1"/>
<text transform="translate(77.25,936.65) scale(1,1.05)" class="pl">30</text>
<text transform="translate(117.9,1000.4) scale(1,1.05)" class="pl">39</text>
<text transform="translate(136,989.65) scale(1,1.05)" class="pl">42</text>
<text transform="translate(152.6,823.4) scale(1,1.05)" class="pl">45</text>
<text transform="translate(193.1,1000.4) scale(1,1.05)" class="pl">52</text>
<text transform="translate(209.4,944.65) scale(1,1.05)" class="pl">55</text>
<text transform="translate(221.9,903.4) scale(1,1.05)" class="pl">57</text>
<text transform="translate(307.6,1001.15) scale(1,1.05)" class="pl">72</text>
<text transform="translate(319.4,755.9) scale(1,1.05)" class="pl">74</text>
<text transform="translate(326.25,980.4) scale(1,1.05)" class="pl">77</text>
<text transform="translate(6.2,697) scale(1,1.06)" class="lt">E</text>
<text transform="translate(55.5,700) scale(1,1.06)" class="pc">%</text>
<path d="M420.5 709.5H704.5V1006.5" stroke="#666" stroke-width="1" fill="none"/>
<path d="M420.5 709.5V1006.5H704.5" stroke="#444" stroke-width="1" fill="none"/>
<line x1="416.5" y1="1006.5" x2="420.5" y2="1006.5" stroke="#444" stroke-width="1"/>
<line x1="418.5" y1="996.5" x2="420.5" y2="996.5" stroke="#444" stroke-width="1"/>
<line x1="418.5" y1="986.5" x2="420.5" y2="986.5" stroke="#444" stroke-width="1"/>
<line x1="418.5" y1="976.5" x2="420.5" y2="976.5" stroke="#444" stroke-width="1"/>
<line x1="418.5" y1="966.5" x2="420.5" y2="966.5" stroke="#444" stroke-width="1"/>
<line x1="416.5" y1="957.5" x2="420.5" y2="957.5" stroke="#444" stroke-width="1"/>
<line x1="418.5" y1="947.5" x2="420.5" y2="947.5" stroke="#444" stroke-width="1"/>
<line x1="418.5" y1="937.5" x2="420.5" y2="937.5" stroke="#444" stroke-width="1"/>
<line x1="418.5" y1="927.5" x2="420.5" y2="927.5" stroke="#444" stroke-width="1"/>
<line x1="418.5" y1="917.5" x2="420.5" y2="917.5" stroke="#444" stroke-width="1"/>
<line x1="416.5" y1="907.5" x2="420.5" y2="907.5" stroke="#444" stroke-width="1"/>
<line x1="418.5" y1="897.5" x2="420.5" y2="897.5" stroke="#444" stroke-width="1"/>
<line x1="418.5" y1="888.5" x2="420.5" y2="888.5" stroke="#444" stroke-width="1"/>
<line x1="418.5" y1="878.5" x2="420.5" y2="878.5" stroke="#444" stroke-width="1"/>
<line x1="418.5" y1="868.5" x2="420.5" y2="868.5" stroke="#444" stroke-width="1"/>
<line x1="416.5" y1="858.5" x2="420.5" y2="858.5" stroke="#444" stroke-width="1"/>
<line x1="418.5" y1="848.5" x2="420.5" y2="848.5" stroke="#444" stroke-width="1"/>
<line x1="418.5" y1="838.5" x2="420.5" y2="838.5" stroke="#444" stroke-width="1"/>
<line x1="418.5" y1="828.5" x2="420.5" y2="828.5" stroke="#444" stroke-width="1"/>
<line x1="418.5" y1="819.5" x2="420.5" y2="819.5" stroke="#444" stroke-width="1"/>
<line x1="416.5" y1="809.5" x2="420.5" y2="809.5" stroke="#444" stroke-width="1"/>
<line x1="418.5" y1="799.5" x2="420.5" y2="799.5" stroke="#444" stroke-width="1"/>
<line x1="418.5" y1="789.5" x2="420.5" y2="789.5" stroke="#444" stroke-width="1"/>
<line x1="418.5" y1="779.5" x2="420.5" y2="779.5" stroke="#444" stroke-width="1"/>
<line x1="418.5" y1="769.5" x2="420.5" y2="769.5" stroke="#444" stroke-width="1"/>
<line x1="416.5" y1="759.5" x2="420.5" y2="759.5" stroke="#444" stroke-width="1"/>
<line x1="418.5" y1="750.5" x2="420.5" y2="750.5" stroke="#444" stroke-width="1"/>
<line x1="418.5" y1="740.5" x2="420.5" y2="740.5" stroke="#444" stroke-width="1"/>
<line x1="418.5" y1="730.5" x2="420.5" y2="730.5" stroke="#444" stroke-width="1"/>
<line x1="418.5" y1="720.5" x2="420.5" y2="720.5" stroke="#444" stroke-width="1"/>
<line x1="416.5" y1="710.5" x2="420.5" y2="710.5" stroke="#444" stroke-width="1"/>
<text transform="translate(416.5,1012.6) scale(1,1.05)" class="yl">0.0</text>
<text transform="translate(416.5,963.31) scale(1,1.05)" class="yl">25.0</text>
<text transform="translate(416.5,914.02) scale(1,1.05)" class="yl">50.0</text>
<text transform="translate(416.5,864.74) scale(1,1.05)" class="yl">75.0</text>
<text transform="translate(416.5,815.45) scale(1,1.05)" class="yl">00.0</text>
<path transform="translate(373.97,815.45) scale(0.008301,-0.008716)" d="M763,0L583,0L583,1147C540,1106 483,1064 413,1023C343,982 280,951 223,930L223,1104C322,1150 401,1203 480,1272C559,1341 613,1408 643,1472L763,1472Z" fill="#1e1e1e"/>
<text transform="translate(416.5,766.16) scale(1,1.05)" class="yl">25.0</text>
<path transform="translate(373.97,766.16) scale(0.008301,-0.008716)" d="M763,0L583,0L583,1147C540,1106 483,1064 413,1023C343,982 280,951 223,930L223,1104C322,1150 401,1203 480,1272C559,1341 613,1408 643,1472L763,1472Z" fill="#1e1e1e"/>
<text transform="translate(416.5,716.88) scale(1,1.05)" class="yl">50.0</text>
<path transform="translate(373.97,716.88) scale(0.008301,-0.008716)" d="M763,0L583,0L583,1147C540,1106 483,1064 413,1023C343,982 280,951 223,930L223,1104C322,1150 401,1203 480,1272C559,1341 613,1408 643,1472L763,1472Z" fill="#1e1e1e"/>
<line x1="432.5" y1="1006.5" x2="432.5" y2="1008.3" stroke="#444" stroke-width="1"/>
<line x1="454.5" y1="1006.5" x2="454.5" y2="1008.3" stroke="#444" stroke-width="1"/>
<line x1="477.5" y1="1006.5" x2="477.5" y2="1008.3" stroke="#444" stroke-width="1"/>
<line x1="499.5" y1="1006.5" x2="499.5" y2="1008.3" stroke="#444" stroke-width="1"/>
<line x1="522.5" y1="1006.5" x2="522.5" y2="1010.5" stroke="#444" stroke-width="1"/>
<line x1="544.5" y1="1006.5" x2="544.5" y2="1008.3" stroke="#444" stroke-width="1"/>
<line x1="567.5" y1="1006.5" x2="567.5" y2="1008.3" stroke="#444" stroke-width="1"/>
<line x1="589.5" y1="1006.5" x2="589.5" y2="1008.3" stroke="#444" stroke-width="1"/>
<line x1="611.5" y1="1006.5" x2="611.5" y2="1008.3" stroke="#444" stroke-width="1"/>
<line x1="634.5" y1="1006.5" x2="634.5" y2="1010.5" stroke="#444" stroke-width="1"/>
<line x1="656.5" y1="1006.5" x2="656.5" y2="1008.3" stroke="#444" stroke-width="1"/>
<line x1="679.5" y1="1006.5" x2="679.5" y2="1008.3" stroke="#444" stroke-width="1"/>
<line x1="701.5" y1="1006.5" x2="701.5" y2="1008.3" stroke="#444" stroke-width="1"/>
<text transform="translate(522.25,1024.5) scale(1,1.05)" class="xl">50.0</text>
<text transform="translate(634.4,1024.5) scale(1,1.05)" class="xl">75.0</text>
<line x1="432.5" y1="1006.5" x2="432.5" y2="1003" stroke="#555" stroke-width="1"/>
<line x1="436.5" y1="1006.5" x2="436.5" y2="1003" stroke="#555" stroke-width="1"/>
<line x1="441.5" y1="1006.5" x2="441.5" y2="996.25" stroke="#555" stroke-width="1"/>
<line x1="463.5" y1="1006.5" x2="463.5" y2="1003.75" stroke="#555" stroke-width="1"/>
<line x1="468.5" y1="1006.5" x2="468.5" y2="1002.5" stroke="#555" stroke-width="1"/>
<line x1="472.5" y1="1006.5" x2="472.5" y2="980.5" stroke="#555" stroke-width="1"/>
<line x1="476.5" y1="1006.5" x2="476.5" y2="1001.25" stroke="#555" stroke-width="1"/>
<line x1="482.5" y1="1006.5" x2="482.5" y2="960" stroke="#555" stroke-width="1"/>
<line x1="486.5" y1="1006.5" x2="486.5" y2="958.75" stroke="#555" stroke-width="1"/>
<line x1="490.5" y1="1006.5" x2="490.5" y2="968.25" stroke="#555" stroke-width="1"/>
<line x1="495.5" y1="1006.5" x2="495.5" y2="997.5" stroke="#555" stroke-width="1"/>
<line x1="499.5" y1="1006.5" x2="499.5" y2="963.75" stroke="#555" stroke-width="1"/>
<line x1="504.5" y1="1006.5" x2="504.5" y2="1004" stroke="#555" stroke-width="1"/>
<line x1="544.5" y1="1006.5" x2="544.5" y2="983.9" stroke="#555" stroke-width="1"/>
<line x1="549.5" y1="1006.5" x2="549.5" y2="1002" stroke="#555" stroke-width="1"/>
<line x1="553.5" y1="1006.5" x2="553.5" y2="999.4" stroke="#555" stroke-width="1"/>
<line x1="566.5" y1="1006.5" x2="566.5" y2="810.1" stroke="#555" stroke-width="1"/>
<line x1="571.5" y1="1006.5" x2="571.5" y2="1002" stroke="#555" stroke-width="1"/>
<line x1="607.5" y1="1006.5" x2="607.5" y2="1003.5" stroke="#555" stroke-width="1"/>
<line x1="616.5" y1="1006.5" x2="616.5" y2="1002" stroke="#555" stroke-width="1"/>
<line x1="625.5" y1="1006.5" x2="625.5" y2="937.9" stroke="#555" stroke-width="1"/>
<line x1="629.5" y1="1006.5" x2="629.5" y2="990.6" stroke="#555" stroke-width="1"/>
<line x1="688.5" y1="1006.5" x2="688.5" y2="1004.5" stroke="#555" stroke-width="1"/>
<line x1="692.5" y1="1006.5" x2="692.5" y2="1002" stroke="#555" stroke-width="1"/>
<text transform="translate(440.6,995.9) scale(1,1.05)" class="pl">32</text>
<text transform="translate(472.25,979.9) scale(1,1.05)" class="pl">39</text>
<text transform="translate(486.1,958.4) scale(1,1.05)" class="pl">42</text>
<text transform="translate(544.65,983.5) scale(1,1.05)" class="pl">55</text>
<text transform="translate(553.45,999.1) scale(1,1.05)" class="pl">57</text>
<text transform="translate(566,809.7) scale(1,1.05)" class="pl">60</text>
<text transform="translate(616,1001.8) scale(1,1.05)" class="pl">71</text>
<text transform="translate(624.5,937.1) scale(1,1.05)" class="pl">73</text>
<text transform="translate(692.8,1001.1) scale(1,1.05)" class="pl">88</text>
<text transform="translate(360.5,697) scale(1,1.06)" class="lt">F</text>
<text transform="translate(416.5,705) scale(1,1.06)" class="pc">%</text>
<path d="M60.5 1052.5H345.5V1350.5" stroke="#666" stroke-width="1" fill="none"/>
<path d="M60.5 1052.5V1350.5H345.5" stroke="#444" stroke-width="1" fill="none"/>
<line x1="56.5" y1="1350.5" x2="60.5" y2="1350.5" stroke="#444" stroke-width="1"/>
<line x1="58.5" y1="1338.5" x2="60.5" y2="1338.5" stroke="#444" stroke-width="1"/>
<line x1="58.5" y1="1327.5" x2="60.5" y2="1327.5" stroke="#444" stroke-width="1"/>
<line x1="58.5" y1="1316.5" x2="60.5" y2="1316.5" stroke="#444" stroke-width="1"/>
<line x1="58.5" y1="1304.5" x2="60.5" y2="1304.5" stroke="#444" stroke-width="1"/>
<line x1="56.5" y1="1293.5" x2="60.5" y2="1293.5" stroke="#444" stroke-width="1"/>
<line x1="58.5" y1="1281.5" x2="60.5" y2="1281.5" stroke="#444" stroke-width="1"/>
<line x1="58.5" y1="1270.5" x2="60.5" y2="1270.5" stroke="#444" stroke-width="1"/>
<line x1="58.5" y1="1258.5" x2="60.5" y2="1258.5" stroke="#444" stroke-width="1"/>
<line x1="58.5" y1="1247.5" x2="60.5" y2="1247.5" stroke="#444" stroke-width="1"/>
<line x1="56.5" y1="1236.5" x2="60.5" y2="1236.5" stroke="#444" stroke-width="1"/>
<line x1="58.5" y1="1224.5" x2="60.5" y2="1224.5" stroke="#444" stroke-width="1"/>
<line x1="58.5" y1="1213.5" x2="60.5" y2="1213.5" stroke="#444" stroke-width="1"/>
<line x1="58.5" y1="1201.5" x2="60.5" y2="1201.5" stroke="#444" stroke-width="1"/>
<line x1="58.5" y1="1190.5" x2="60.5" y2="1190.5" stroke="#444" stroke-width="1"/>
<line x1="56.5" y1="1178.5" x2="60.5" y2="1178.5" stroke="#444" stroke-width="1"/>
<line x1="58.5" y1="1167.5" x2="60.5" y2="1167.5" stroke="#444" stroke-width="1"/>
<line x1="58.5" y1="1155.5" x2="60.5" y2="1155.5" stroke="#444" stroke-width="1"/>
<line x1="58.5" y1="1144.5" x2="60.5" y2="1144.5" stroke="#444" stroke-width="1"/>
<line x1="58.5" y1="1133.5" x2="60.5" y2="1133.5" stroke="#444" stroke-width="1"/>
<line x1="56.5" y1="1121.5" x2="60.5" y2="1121.5" stroke="#444" stroke-width="1"/>
<line x1="58.5" y1="1110.5" x2="60.5" y2="1110.5" stroke="#444" stroke-width="1"/>
<line x1="58.5" y1="1098.5" x2="60.5" y2="1098.5" stroke="#444" stroke-width="1"/>
<line x1="58.5" y1="1087.5" x2="60.5" y2="1087.5" stroke="#444" stroke-width="1"/>
<line x1="58.5" y1="1075.5" x2="60.5" y2="1075.5" stroke="#444" stroke-width="1"/>
<line x1="56.5" y1="1064.5" x2="60.5" y2="1064.5" stroke="#444" stroke-width="1"/>
<text transform="translate(56.5,1356.6) scale(1,1.05)" class="yl">0.0</text>
<text transform="translate(56.5,1299.4) scale(1,1.05)" class="yl">25.0</text>
<text transform="translate(56.5,1242.2) scale(1,1.05)" class="yl">50.0</text>
<text transform="translate(56.5,1185) scale(1,1.05)" class="yl">75.0</text>
<text transform="translate(56.5,1127.8) scale(1,1.05)" class="yl">00.0</text>
<path transform="translate(13.97,1127.8) scale(0.008301,-0.008716)" d="M763,0L583,0L583,1147C540,1106 483,1064 413,1023C343,982 280,951 223,930L223,1104C322,1150 401,1203 480,1272C559,1341 613,1408 643,1472L763,1472Z" fill="#1e1e1e"/>
<text transform="translate(56.5,1070.6) scale(1,1.05)" class="yl">25.0</text>
<path transform="translate(13.97,1070.6) scale(0.008301,-0.008716)" d="M763,0L583,0L583,1147C540,1106 483,1064 413,1023C343,982 280,951 223,930L223,1104C322,1150 401,1203 480,1272C559,1341 613,1408 643,1472L763,1472Z" fill="#1e1e1e"/>
<line x1="66.5" y1="1350.5" x2="66.5" y2="1352.3" stroke="#444" stroke-width="1"/>
<line x1="85.5" y1="1350.5" x2="85.5" y2="1352.3" stroke="#444" stroke-width="1"/>
<line x1="104.5" y1="1350.5" x2="104.5" y2="1352.3" stroke="#444" stroke-width="1"/>
<line x1="122.5" y1="1350.5" x2="122.5" y2="1352.3" stroke="#444" stroke-width="1"/>
<line x1="141.5" y1="1350.5" x2="141.5" y2="1354.5" stroke="#444" stroke-width="1"/>
<line x1="160.5" y1="1350.5" x2="160.5" y2="1352.3" stroke="#444" stroke-width="1"/>
<line x1="178.5" y1="1350.5" x2="178.5" y2="1352.3" stroke="#444" stroke-width="1"/>
<line x1="197.5" y1="1350.5" x2="197.5" y2="1352.3" stroke="#444" stroke-width="1"/>
<line x1="216.5" y1="1350.5" x2="216.5" y2="1352.3" stroke="#444" stroke-width="1"/>
<line x1="234.5" y1="1350.5" x2="234.5" y2="1354.5" stroke="#444" stroke-width="1"/>
<line x1="253.5" y1="1350.5" x2="253.5" y2="1352.3" stroke="#444" stroke-width="1"/>
<line x1="272.5" y1="1350.5" x2="272.5" y2="1352.3" stroke="#444" stroke-width="1"/>
<line x1="290.5" y1="1350.5" x2="290.5" y2="1352.3" stroke="#444" stroke-width="1"/>
<line x1="309.5" y1="1350.5" x2="309.5" y2="1352.3" stroke="#444" stroke-width="1"/>
<line x1="328.5" y1="1350.5" x2="328.5" y2="1354.5" stroke="#444" stroke-width="1"/>
<text transform="translate(141.47,1368.5) scale(1,1.05)" class="xl">50.0</text>
<text transform="translate(234.84,1368.5) scale(1,1.05)" class="xl">75.0</text>
<text transform="translate(328.21,1368.5) scale(1,1.05)" class="xl">100.0</text>
<line x1="70.5" y1="1350.5" x2="70.5" y2="1328.75" stroke="#555" stroke-width="1"/>
<line x1="73.5" y1="1350.5" x2="73.5" y2="1343.25" stroke="#555" stroke-width="1"/>
<line x1="96.5" y1="1350.5" x2="96.5" y2="1348" stroke="#555" stroke-width="1"/>
<line x1="100.5" y1="1350.5" x2="100.5" y2="1338.75" stroke="#555" stroke-width="1"/>
<line x1="104.5" y1="1350.5" x2="104.5" y2="1347.5" stroke="#555" stroke-width="1"/>
<line x1="107.5" y1="1350.5" x2="107.5" y2="1332.5" stroke="#555" stroke-width="1"/>
<line x1="111.5" y1="1350.5" x2="111.5" y2="1340.75" stroke="#555" stroke-width="1"/>
<line x1="115.5" y1="1350.5" x2="115.5" y2="1123" stroke="#555" stroke-width="1"/>
<line x1="119.5" y1="1350.5" x2="119.5" y2="1348" stroke="#555" stroke-width="1"/>
<line x1="122.5" y1="1350.5" x2="122.5" y2="1346.25" stroke="#555" stroke-width="1"/>
<line x1="152.5" y1="1350.5" x2="152.5" y2="1348.8" stroke="#555" stroke-width="1"/>
<line x1="159.5" y1="1350.5" x2="159.5" y2="1340" stroke="#555" stroke-width="1"/>
<line x1="163.5" y1="1350.5" x2="163.5" y2="1340" stroke="#555" stroke-width="1"/>
<line x1="167.5" y1="1350.5" x2="167.5" y2="1345.75" stroke="#555" stroke-width="1"/>
<line x1="171.5" y1="1350.5" x2="171.5" y2="1310" stroke="#555" stroke-width="1"/>
<line x1="175.5" y1="1350.5" x2="175.5" y2="1235.75" stroke="#555" stroke-width="1"/>
<line x1="178.5" y1="1350.5" x2="178.5" y2="1342.5" stroke="#555" stroke-width="1"/>
<line x1="264.5" y1="1350.5" x2="264.5" y2="1339.25" stroke="#555" stroke-width="1"/>
<line x1="320.5" y1="1350.5" x2="320.5" y2="1340.5" stroke="#555" stroke-width="1"/>
<line x1="331.5" y1="1350.5" x2="331.5" y2="1312.5" stroke="#555" stroke-width="1"/>
<line x1="335.5" y1="1350.5" x2="335.5" y2="1348" stroke="#555" stroke-width="1"/>
<text transform="translate(70.1,1328.4) scale(1,1.05)" class="pl">31</text>
<text transform="translate(100,1337.9) scale(1,1.05)" class="pl">39</text>
<text transform="translate(115.1,1122.15) scale(1,1.05)" class="pl">43</text>
<text transform="translate(122.5,1345.9) scale(1,1.05)" class="pl">45</text>
<text transform="translate(159.9,1339.9) scale(1,1.05)" class="pl">55</text>
<text transform="translate(175,1235.4) scale(1,1.05)" class="pl">59</text>
<text transform="translate(226.25,1349.15) scale(1,1.05)" class="pl">73</text>
<text transform="translate(263.75,1338.4) scale(1,1.05)" class="pl">83</text>
<text transform="translate(319.6,1340.4) scale(1,1.05)" class="pl">98</text>
<text transform="translate(330.9,1312.4) scale(1,1.05)" class="pl">101</text>
<text transform="translate(6.5,1048) scale(1,1.06)" class="lt">G</text>
<text transform="translate(56,1048.7) scale(1,1.06)" class="pc">%</text>
<text transform="translate(13.2,145) rotate(-90)" class="yt">Intensity (%)</text>
<text transform="translate(313.8,348) scale(1,1.04)" class="mz">m/z</text>
</svg>
</body></html>
